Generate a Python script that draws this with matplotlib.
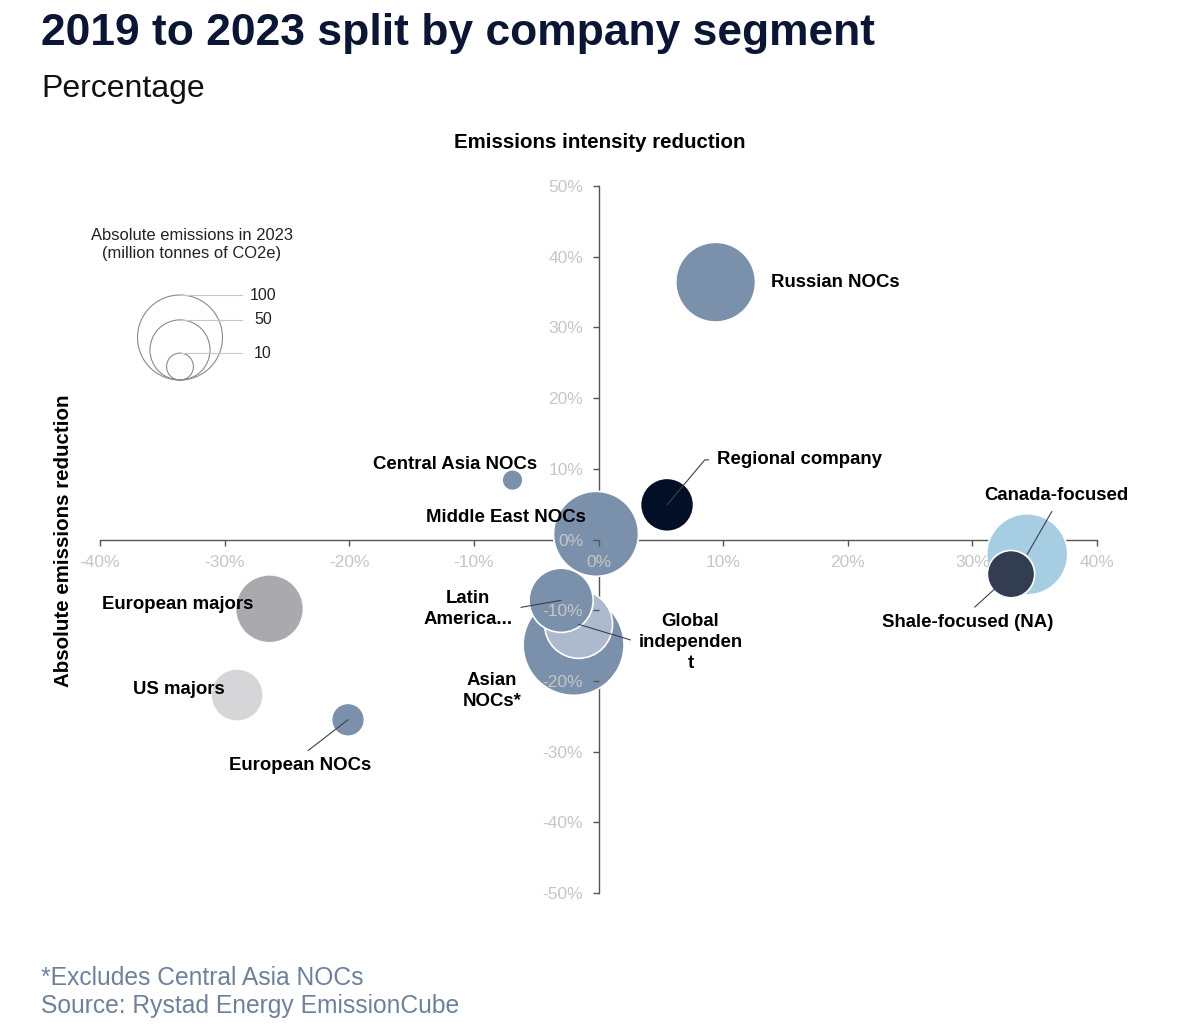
import matplotlib
matplotlib.use("Agg")
import matplotlib.pyplot as plt
import numpy as np
from matplotlib.patches import Circle

# ---------------- data ----------------
segments = ["Asian NOCs*", "Global independent", "Latin America...", "Middle East NOCs",
            "Central Asia NOCs", "Regional company", "Russian NOCs", "Canada-focused",
            "Shale-focused (NA)", "European majors", "US majors", "European NOCs"]
labels = ["Asian\nNOCs*", "Global\nindependen\nt", "Latin\nAmerica...", "Middle East NOCs",
          "Central Asia NOCs", "Regional company", "Russian NOCs", "Canada-focused",
          "Shale-focused (NA)", "European majors", "US majors", "European NOCs"]
intensity_reduction = [-2.0, -1.6, -3.0, -0.2, -6.9, 5.5, 9.4, 34.4, 33.1, -26.4, -29.0, -20.1]
absolute_reduction = [-14.9, -12.0, -8.6, 0.8, 8.4, 4.9, 36.4, -2.1, -4.9, -9.8, -22.0, -25.5]
emissions_2023 = [141, 64, 57, 100, 6, 39, 88, 91, 31, 64, 38, 15]
legend_sizes = [100, 50, 10]
x_ticks = [-40, -30, -20, -10, 0, 10, 20, 30, 40]
y_ticks = [-50, -40, -30, -20, -10, 0, 10, 20, 30, 40, 50]

# ---------------- style ----------------
colors = ["#7b90ab", "#adb9cc", "#7b90ab", "#7b90ab", "#7b90ab", "#030f26",
          "#7b90ab", "#a6cde1", "#333d51", "#aaa9ad", "#d6d6d8", "#7b90ab"]
# label placement: offset from bubble centre in pixels (x right, y down), ha, leader, relpos
label_style = [
    (-81.5, 46, "center", None, None),
    (112, 18, "center", "line", (0, 0.5)),
    (-93, 8.5, "center", "line", (1, 0.5)),
    (-10, -16, "right", None, None),
    (25, -16, "right", None, None),
    (50, -45, "left", "elbow", (0, 0.5)),
    (55, 0, "left", None, None),
    (29, -59, "center", "line", (0.5, 0)),
    (-43.5, 48, "center", "line", (0.5, 1)),
    (-16, -4.5, "right", None, None),
    (-12, -5.5, "right", None, None),
    (-48, 45.5, "center", "line", (0.5, 1)),
]
SIZE_PER_MT = 37.45        # scatter area (pt^2) per Mt CO2e
W, H = 1200, 1024
PX2PT = 72 / 100

plt.rcParams["font.family"] = ["Liberation Sans", "DejaVu Sans"]
fig = plt.figure(figsize=(W / 100, H / 100), dpi=100)
fig.patch.set_facecolor("white")

def fx(px):
    return px / W

def fy(py):
    return 1 - py / H

renderer = fig.canvas.get_renderer()

def fit(t, target, dim="width"):
    ext = t.get_window_extent(renderer)
    cur = ext.width if dim == "width" else ext.height
    t.set_fontsize(t.get_fontsize() * target / cur)

# ---------------- main axes ----------------
ax = fig.add_axes([fx(100), fy(893), (1097 - 100) / W, (893 - 186) / H])
ax.set_xlim(-40, 40)
ax.set_ylim(-50, 50)
ax.spines["left"].set_position(("data", 0))
ax.spines["bottom"].set_position(("data", 0))
ax.spines["top"].set_visible(False)
ax.spines["right"].set_visible(False)
for sp in ("left", "bottom"):
    ax.spines[sp].set_color("#555555")
    ax.spines[sp].set_linewidth(1.0)
    ax.spines[sp].set_zorder(0.5)
ax.set_axisbelow(False)
ax.set_xticks(x_ticks)
ax.set_xticklabels([f"{v}%" for v in x_ticks])
ax.set_yticks(y_ticks)
ax.set_yticklabels([f"{v}%" for v in y_ticks])
ax.tick_params(axis="both", direction="out", length=4.5, width=1.0, color="#555555",
               labelcolor="#c6c6c6", labelsize=12.5, pad=6.5)
ax.patch.set_alpha(0)

sizes = [SIZE_PER_MT * v for v in emissions_2023]
ax.scatter(intensity_reduction, absolute_reduction, s=sizes, c=colors,
           edgecolors="white", linewidths=1.2, zorder=1)

for i, lab in enumerate(labels):
    dx, dy, ha, leader, relpos = label_style[i]
    xy = (intensity_reduction[i], absolute_reduction[i])
    kw = dict(textcoords="offset points", xytext=(dx * PX2PT, -dy * PX2PT),
              ha=ha, va="center", fontsize=13.4, fontweight="bold", color="#000000",
              multialignment="center", linespacing=1.32, zorder=4)
    if leader == "line":
        kw["arrowprops"] = dict(arrowstyle="-", color="#3a4150", lw=0.8,
                                shrinkA=4, shrinkB=0, relpos=relpos)
    elif leader == "elbow":
        kw["arrowprops"] = dict(arrowstyle="-", color="#3a4150", lw=0.8,
                                shrinkA=4, shrinkB=0, relpos=relpos,
                                connectionstyle="angle,angleA=0,angleB=50,rad=0")
    ax.annotate(lab, xy=xy, **kw)

# ---------------- axis titles ----------------
t = fig.text(fx(600), fy(143), "Emissions intensity reduction", ha="center", va="center",
             fontsize=14, fontweight="bold", color="#000000")
fit(t, 292)
t = fig.text(fx(64), fy(541), "Absolute emissions reduction", ha="center", va="center",
             rotation=90, fontsize=14, fontweight="bold", color="#000000")
fit(t, 293, "height")

# ---------------- titles ----------------
t = fig.text(fx(41), fy(45), "2019 to 2023 split by company segment", ha="left",
             va="baseline", fontsize=36, fontweight="bold", color="#0b1635")
fit(t, 832)
t = fig.text(fx(41), fy(97), "Percentage", ha="left", va="baseline", fontsize=22,
             color="#111111")
fit(t, 163)

# ---------------- footnotes ----------------
t = fig.text(fx(41), fy(985), "*Excludes Central Asia NOCs", ha="left", va="baseline",
             fontsize=16, color="#6e819b")
fit(t, 324)
fs = t.get_fontsize()
fig.text(fx(41), fy(1013), "Source: Rystad Energy EmissionCube", ha="left",
         va="baseline", fontsize=fs, color="#6e819b")

# ---------------- size legend ----------------
lx0, lx1, ly0, ly1 = 80, 320, 215, 395
lax = fig.add_axes([fx(lx0), fy(ly1), (lx1 - lx0) / W, (ly1 - ly0) / H])
lax.set_xlim(lx0, lx1)
lax.set_ylim(H - ly1, H - ly0)
lax.axis("off")
lax.text(192, H - 244.5, "Absolute emissions in 2023\n(million tonnes of CO2e)",
         ha="center", va="center", fontsize=11.9, color="#222222", linespacing=1.2)
cx, base = 180, H - 380
for v in legend_sizes:
    d_px = np.sqrt(SIZE_PER_MT * v) * 100 / 72
    r = d_px / 2
    lax.add_patch(Circle((cx, base + r), r, fill=False, ec="#8a8a8a", lw=0.8))
    top = base + d_px
    lax.plot([cx, 242], [top, top], color="#c8c8c8", lw=0.8)
    lax.text(263, top, str(v), ha="center", va="center", fontsize=11.5, color="#222222")

fig.savefig("out.png", dpi=100)
